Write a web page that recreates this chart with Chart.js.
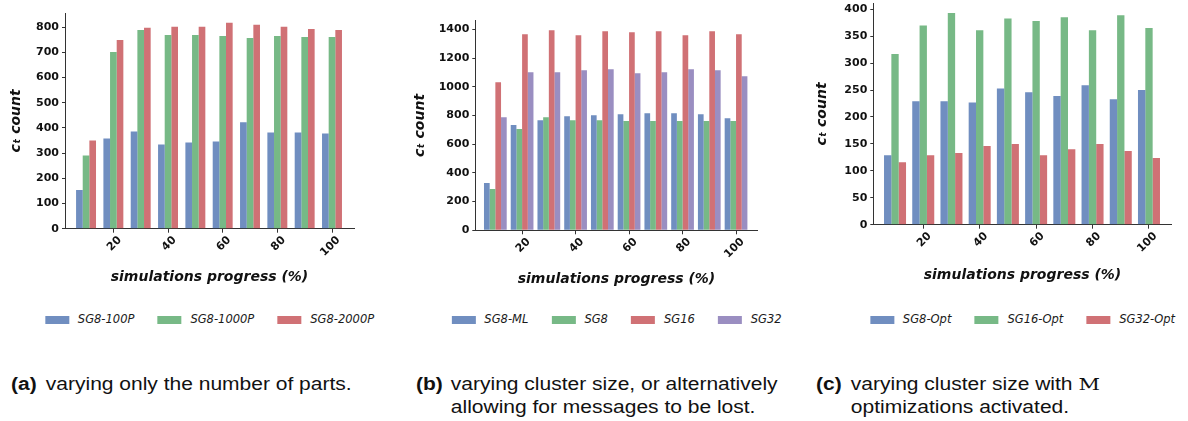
<!DOCTYPE html>
<html>
<head>
<meta charset="utf-8">
<script src="https://cdn.jsdelivr.net/npm/chart.js@4.4.1/dist/chart.umd.min.js"></script>
<style>
  body { margin: 0; background: #fff; width: 1188px; height: 421px; overflow: hidden; position: relative; }
  canvas.panel { position: absolute; top: 0; }
  .legend { position: absolute; top: 313px; display: flex; gap: 23px; font: italic 11.5px "DejaVu Sans"; color: #1a1a1a; white-space: nowrap; transform: translateX(-50%); line-height: 13px; }
  .legend .item { display: flex; align-items: center; }
  .legend .box { width: 24px; height: 8px; margin-right: 9px; }
  .caption { position: absolute; top: 373px; font: 17.5px/22.7px "Liberation Sans", Arial, sans-serif; color: #111; white-space: nowrap; transform: scaleX(1.2); transform-origin: 0 0; }
  .caption b { position: absolute; left: 0; top: 0; }
  .caption .txt { position: absolute; top: 0; left: 29px; }
  .caption .m { font-family: "DejaVu Serif", "Liberation Serif", serif; }
</style>
</head>
<body>
<canvas id="chartA" class="panel" width="400" height="300" style="left:0px"></canvas>
<canvas id="chartB" class="panel" width="400" height="300" style="left:400px"></canvas>
<canvas id="chartC" class="panel" width="388" height="300" style="left:800px"></canvas>

<div class="caption" style="left:10.5px"><b>(a)</b><span class="txt">varying only the number of parts.</span></div>
<div class="caption" style="left:416px"><b>(b)</b><span class="txt">varying cluster size, or alternatively<br>allowing for messages to be lost.</span></div>
<div class="caption" style="left:816px"><b>(c)</b><span class="txt">varying cluster size with <span class="m">M</span><br>optimizations activated.</span></div>

<script>
// x positions of the bar groups (simulation progress, %)
const progress = [10, 20, 30, 40, 50, 60, 70, 80, 90, 100];
const xTickValues = [20, 40, 60, 80, 100];

// (a) number of parts
const sg8_100P  = [154, 358, 386, 334, 342, 346, 422, 382, 382, 378];
const sg8_1000P = [290, 701, 789, 769, 769, 765, 757, 765, 761, 761];
const sg8_2000P = [350, 749, 797, 801, 801, 817, 809, 801, 793, 789];

// (b) cluster size / message loss
const sg8_ML = [330, 734, 768, 796, 803, 810, 817, 817, 810, 782];
const sg8    = [288, 706, 789, 768, 768, 762, 762, 762, 762, 762];
const sg16   = [1033, 1367, 1395, 1361, 1388, 1381, 1388, 1361, 1388, 1367];
const sg32   = [789, 1103, 1103, 1117, 1124, 1096, 1103, 1124, 1117, 1075];

// (c) cluster size with optimizations
const sg8_Opt  = [129, 229, 229, 227, 253, 246, 239, 259, 233, 250];
const sg16_Opt = [317, 370, 393, 361, 383, 378, 385, 361, 389, 365];
const sg32_Opt = [116, 129, 133, 146, 150, 129, 140, 150, 137, 124];

const BLUE = 'rgba(76,114,176,0.8)';
const GREEN = 'rgba(85,168,104,0.8)';
const RED = 'rgba(196,78,82,0.8)';
const PURPLE = 'rgba(129,114,178,0.8)';
const AXIS = '#333333';
const TEXT = '#111111';
const FAMILY = '"DejaVu Sans"';

function makePanel(canvasId, cfg) {
  const canvas = document.getElementById(canvasId);
  const chart = new Chart(canvas, {
    type: 'bar',
    data: {
      datasets: cfg.series.map(s => ({
        label: s.label,
        data: progress.map((x, i) => ({ x: x, y: s.values[i] })),
        backgroundColor: s.color,
        borderWidth: 0,
        categoryPercentage: cfg.groupFrac,
        barPercentage: 1
      }))
    },
    options: {
      responsive: false,
      animation: false,
      events: [],
      layout: { padding: { left: 0, top: cfg.top, right: cfg.right, bottom: 0 } },
      plugins: { legend: { display: false }, tooltip: { enabled: false } },
      scales: {
        x: {
          type: 'linear',
          offset: false,
          min: cfg.xMin,
          max: cfg.xMax,
          grid: { display: true, offset: false, drawOnChartArea: false, drawTicks: true, tickLength: 4, color: AXIS },
          border: { display: true, color: AXIS, width: 1 },
          afterBuildTicks: s => { s.ticks = xTickValues.map(v => ({ value: v })); },
          afterFit: s => { s.height = cfg.xHeight; s.paddingLeft = 0; s.paddingRight = 0; },
          ticks: {
            autoSkip: false, minRotation: 45, maxRotation: 45, padding: 1, labelOffset: 6.5,
            callback: v => String(v),
            font: { family: FAMILY, size: 11, weight: 'bold' }, color: TEXT
          },
          title: {
            display: true, text: 'simulations progress (%)', color: TEXT,
            font: { family: FAMILY, size: 14, weight: 'bold', style: 'italic' },
            padding: { top: 0, bottom: cfg.xTitlePad }
          }
        },
        y: {
          min: 0,
          max: cfg.yMax,
          grid: { display: true, drawOnChartArea: false, drawTicks: true, tickLength: 3, color: AXIS },
          border: { display: true, color: AXIS, width: 1 },
          afterFit: s => { s.width = cfg.yWidth; s.paddingTop = 0; s.paddingBottom = 0; },
          ticks: {
            stepSize: cfg.yStep, includeBounds: false, padding: 3,
            callback: v => String(v),
            font: { family: FAMILY, size: 11, weight: 'bold' }, color: TEXT
          },
          title: {
            display: true, text: 'c\u209C count', color: TEXT,
            font: { family: FAMILY, size: 14, weight: 'bold', style: 'italic' },
            padding: { top: cfg.yTitlePad, bottom: 0 }
          }
        }
      }
    }
  });

  // legend row under the panel, centred on the plot area
  const legend = document.createElement('div');
  legend.className = 'legend';
  const area = chart.chartArea;
  legend.style.left = (canvas.offsetLeft + (area.left + area.right) / 2) + 'px';
  cfg.series.forEach(s => {
    const item = document.createElement('div');
    item.className = 'item';
    const box = document.createElement('span');
    box.className = 'box';
    box.style.background = s.color;
    const label = document.createElement('span');
    label.textContent = s.label;
    item.appendChild(box);
    item.appendChild(label);
    legend.appendChild(item);
  });
  document.body.appendChild(legend);
  return chart;
}

makePanel('chartA', {
  series: [
    { label: 'SG8-100P', values: sg8_100P, color: BLUE },
    { label: 'SG8-1000P', values: sg8_1000P, color: GREEN },
    { label: 'SG8-2000P', values: sg8_2000P, color: RED }
  ],
  groupFrac: 0.73, xMin: 2.3, xMax: 108.05,
  yMax: 856, yStep: 100,
  top: 13, right: 46, yWidth: 65, xHeight: 71.3,
  xTitlePad: 14.3, yTitlePad: 7.6
});

makePanel('chartB', {
  series: [
    { label: 'SG8-ML', values: sg8_ML, color: BLUE },
    { label: 'SG8', values: sg8, color: GREEN },
    { label: 'SG16', values: sg16, color: RED },
    { label: 'SG32', values: sg32, color: PURPLE }
  ],
  groupFrac: 0.85, xMin: 2.5, xMax: 108.1,
  yMax: 1462, yStep: 200,
  top: 20.7, right: 42.3, yWidth: 75.3, xHeight: 69.7,
  xTitlePad: 12.6, yTitlePad: 11.6
});

makePanel('chartC', {
  series: [
    { label: 'SG8-Opt', values: sg8_Opt, color: BLUE },
    { label: 'SG16-Opt', values: sg16_Opt, color: GREEN },
    { label: 'SG32-Opt', values: sg32_Opt, color: RED }
  ],
  groupFrac: 0.78, xMin: 2.3, xMax: 108.05,
  yMax: 411, yStep: 50,
  top: 3.3, right: 16.3, yWidth: 73.3, xHeight: 75.3,
  xTitlePad: 15.9, yTitlePad: 14.3
});
</script>
</body>
</html>
